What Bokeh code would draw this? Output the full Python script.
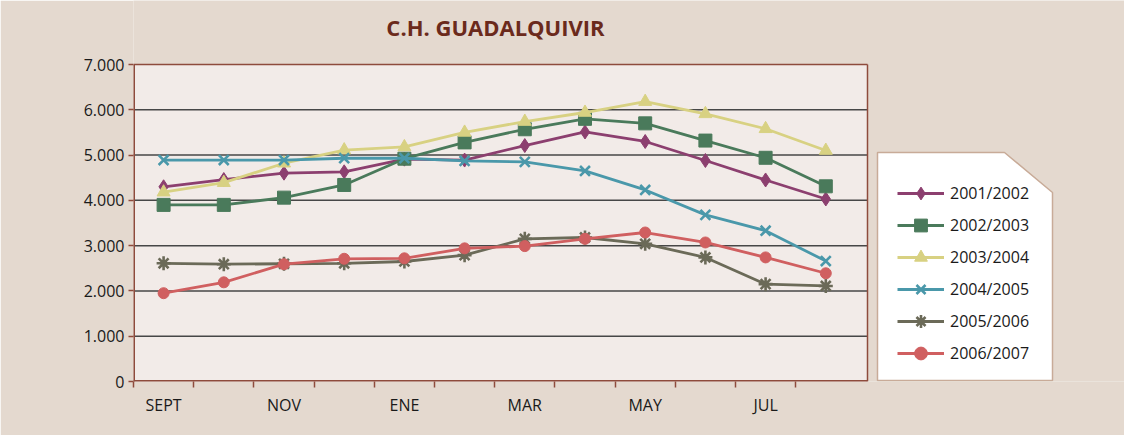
from bokeh.plotting import figure
from bokeh.models import Range1d, FixedTicker, Legend, LegendItem
from bokeh.core.properties import value
from bokeh.embed import file_html
from bokeh.resources import INLINE

# ---- data ----
title_text = "C.H. GUADALQUIVIR"
months = ["SEPT", "OCT", "NOV", "DIC", "ENE", "FEB", "MAR", "ABR", "MAY", "JUN", "JUL", "AGO"]
y_ticks = [0, 1000, 2000, 3000, 4000, 5000, 6000, 7000]
y_tick_labels = ["0", "1.000", "2.000", "3.000", "4.000", "5.000", "6.000", "7.000"]

s2001_2002 = [4300, 4460, 4600, 4630, 4910, 4890, 5210, 5510, 5300, 4880, 4450, 4030]
s2002_2003 = [3900, 3900, 4060, 4340, 4920, 5280, 5570, 5800, 5700, 5320, 4940, 4310]
s2003_2004 = [4180, 4390, 4820, 5110, 5180, 5500, 5740, 5940, 6180, 5910, 5580, 5100]
s2004_2005 = [4890, 4890, 4890, 4930, 4930, 4870, 4850, 4650, 4230, 3680, 3330, 2660]
s2005_2006 = [2610, 2590, 2600, 2610, 2650, 2790, 3150, 3180, 3040, 2740, 2150, 2110]
s2006_2007 = [1950, 2190, 2590, 2710, 2720, 2940, 2990, 3150, 3290, 3070, 2740, 2390]

series_names = ["2001/2002", "2002/2003", "2003/2004", "2004/2005", "2005/2006", "2006/2007"]
series_values = [s2001_2002, s2002_2003, s2003_2004, s2004_2005, s2005_2006, s2006_2007]
colors = ["#8c3f6f", "#4a7a5b", "#d8d182", "#4a98aa", "#6b6a58", "#d05f60"]
markers = ["diamond", "square", "triangle", "x", "asterisk", "circle"]
sizes = [14, 13, 13, 14, 14, 11]

# ---- styling / layout constants ----
BROWN = "#8e4b3c"
FONT = "Open Sans"
BG = "#e4d9cf"
W, H = 1124, 435
LEFT, BOTTOM = 133, 54
FRAME_W = W - LEFT
FRAME_H = H - BOTTOM             # frame spans from canvas top to the x axis
AREA_TOP_PX = 64                 # pixel row of the 7.000 line
STEP = 60.2                      # px per category
AREA_RIGHT_PX = 867              # right edge of the plotting area
Y_MAX = 7000

x = list(range(len(months)))
x_start = -0.5
x_end = x_start + FRAME_W / STEP
area_end = x_start + (AREA_RIGHT_PX - LEFT) / STEP
y_end = Y_MAX * FRAME_H / (FRAME_H - AREA_TOP_PX)


def px_to_x(px):
    return x_start + (px - LEFT) / STEP


def py_to_y(py):
    return (FRAME_H - py) * y_end / FRAME_H


p = figure(width=W, height=H, output_backend="svg", toolbar_location=None,
           x_range=Range1d(x_start, x_end), y_range=Range1d(0, y_end),
           min_border_left=LEFT, min_border_right=0, min_border_top=0,
           min_border_bottom=BOTTOM)

p.background_fill_color = BG
p.border_fill_color = BG
p.outline_line_color = None

# title
p.text(x=[px_to_x(495)], y=[py_to_y(26)], text=[title_text],
       text_align="center", text_baseline="middle",
       text_font=value(FONT), text_font_style="bold", text_font_size="22px",
       text_color="#6b2a1c")

# plotting area background
p.quad(left=[x_start], right=[area_end], bottom=[0], top=[Y_MAX],
       fill_color="#f2ebe8", line_color=None)

# horizontal grid lines
grid_y = y_ticks[1:-1]
p.segment(x0=[x_start] * len(grid_y), x1=[area_end] * len(grid_y), y0=grid_y, y1=grid_y,
          line_color="#474747", line_width=1.5)

# area outline: top and right (interior), left and bottom (on frame edge)
p.segment(x0=[x_start, area_end], x1=[area_end, area_end],
          y0=[Y_MAX, 0], y1=[Y_MAX, Y_MAX], line_color=BROWN, line_width=1.5)
p.segment(x0=[x_start, x_start], x1=[area_end, x_start],
          y0=[0, 0], y1=[0, Y_MAX], line_color=BROWN, line_width=3)

# legend box with cut corner
lx0, lx1, lxc = px_to_x(877), px_to_x(1052), px_to_x(1004)
ly0, ly1, lyc = py_to_y(152), py_to_y(380), py_to_y(192)
p.patch([lx0, lxc, lx1, lx1, lx0], [ly0, ly0, lyc, ly1, ly1],
        fill_color="white", line_color="#c8ab98", line_width=1.5)

# axes
p.xaxis.ticker = FixedTicker(ticks=x[::2], minor_ticks=[i + 0.5 for i in range(-1, 11)])
p.xaxis.major_label_overrides = {i: months[i] for i in x}
p.xaxis.major_tick_out = 0
p.xaxis.major_tick_in = 0
p.xaxis.minor_tick_out = 6
p.xaxis.minor_tick_in = 0
p.xaxis.minor_tick_line_color = BROWN
p.xaxis.minor_tick_line_width = 1.5
p.xaxis.major_label_standoff = 6
p.xaxis.axis_line_color = None

p.yaxis.ticker = FixedTicker(ticks=y_ticks, minor_ticks=[])
p.yaxis.major_label_overrides = dict(zip(y_ticks, y_tick_labels))
p.yaxis.major_tick_out = 5
p.yaxis.major_tick_in = 0
p.yaxis.major_tick_line_color = BROWN
p.yaxis.major_tick_line_width = 1.5
p.yaxis.major_label_standoff = 4
p.yaxis.axis_line_color = None

for ax in (p.xaxis, p.yaxis):
    ax.major_label_text_font = FONT
    ax.major_label_text_font_size = "16px"
    ax.major_label_text_color = "#1a1a1a"

p.xgrid.visible = False
p.ygrid.visible = False

items = []
for name, vals, c, m, s in zip(series_names, series_values, colors, markers, sizes):
    lr = p.line(x, vals, line_color=c, line_width=2.8)
    lw = 2.6 if m in ("x", "asterisk") else 1
    sr = p.scatter(x, vals, marker=m, size=s, fill_color=c, line_color=c, line_width=lw)
    items.append(LegendItem(label=name, renderers=[lr, sr]))

legend = Legend(items=items, location=(897 - LEFT, FRAME_H - 369), padding=0, margin=0,
                spacing=0, glyph_height=32, label_height=32, glyph_width=47,
                label_standoff=6, border_line_alpha=0, background_fill_alpha=0,
                label_text_font=FONT, label_text_font_size="16px",
                label_text_color="#1a1a1a")
p.add_layout(legend)

open("out.html", "w").write(file_html(p, INLINE))
